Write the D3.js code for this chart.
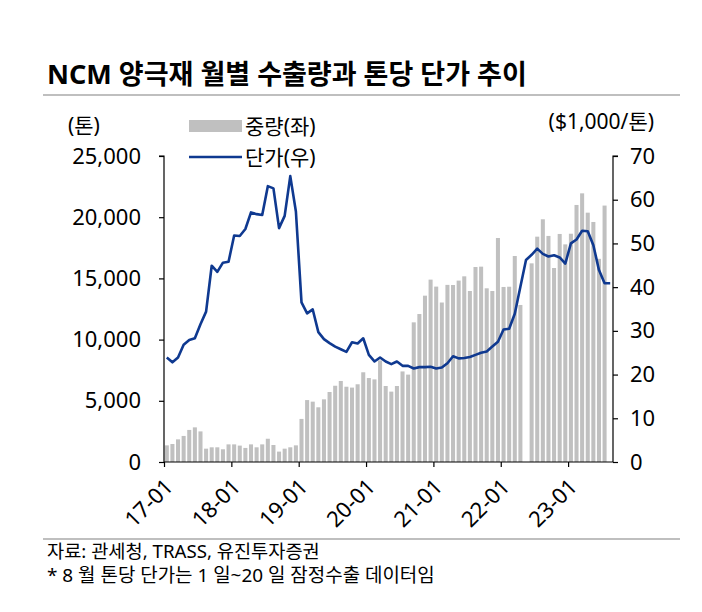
<!DOCTYPE html>
<html>
<head>
<meta charset="utf-8">
<script src="https://cdn.jsdelivr.net/npm/d3@7"></script>
<style>
  html, body { margin: 0; padding: 0; background: #fff; }
  svg { display: block; }
  text { font-family: "Noto Sans", "Noto Sans CJK KR", sans-serif; fill: #000; }
</style>
</head>
<body>
<svg id="chart" width="702" height="612"></svg>
<script>
// ---- data ----
const startYear = 2017;
const monthCount = 80; // 17-01 .. 23-08
const yearTickLabels = ["17-01", "18-01", "19-01", "20-01", "21-01", "22-01", "23-01"];
const leftTicks = [0, 5000, 10000, 15000, 20000, 25000];
const rightTicks = [0, 10, 20, 30, 40, 50, 60, 70];

// 중량 (tons), 17-01 .. 23-07 (23-08 not shown)
const volume = [
  1360, 1470, 1850, 2130, 2620, 2830, 2500, 1090, 1200, 1200, 1040, 1440,
  1440, 1340, 1150, 1440, 1200, 1440, 1900, 1390, 850, 1090, 1200, 1360,
  3520, 5060, 4930, 4470, 5120, 5720, 6230, 6620, 6150, 6080, 6350, 7330,
  6860, 6750, 8300, 6210, 5750, 6210, 7400, 7140, 11410, 12090, 13590, 14900,
  14330, 13030, 14470, 14460, 14820, 15170, 13970, 15930, 15960, 14190, 13970, 18300,
  14300, 14320, 16830, 12830, null, 16230, 18410, 19830, 18470, 15850, 18630, 17780,
  18650, 21000, 21950, 20370, 19610, 16600, 20950
];
// 단가 ($1,000/ton), 17-01 .. 23-08
const price = [
  23.9, 22.8, 23.9, 26.8, 27.9, 28.3, 31.5, 34.4, 44.9, 43.5, 45.6, 45.8,
  51.8, 51.7, 53.3, 57.1, 56.7, 56.5, 63.1, 62.6, 53.5, 56.3, 65.4, 57.3,
  36.5, 34.0, 34.9, 29.7, 28.1, 27.2, 26.4, 25.8, 25.2, 27.4, 27.1, 28.3,
  24.5, 23.0, 23.9, 23.0, 22.4, 23.0, 22.0, 22.0, 21.4, 21.7, 21.7, 21.8,
  21.4, 21.6, 22.6, 24.2, 23.7, 23.8, 24.0, 24.5, 25.0, 25.3, 26.4, 27.5,
  30.3, 30.5, 33.9, 40.1, 46.2, 47.4, 48.8, 47.6, 47.0, 47.3, 46.8, 45.4,
  50.0, 50.9, 52.9, 52.8, 49.6, 43.9, 40.9, 40.9
];

const months = [];
for (let i = 0; i < monthCount; i++) {
  const y = startYear + Math.floor(i / 12), m = (i % 12) + 1;
  months.push(String(y).slice(2) + "-" + String(m).padStart(2, "0"));
}

// ---- layout ----
const svg = d3.select("#chart");
const L = 164, R = 613, T = 156, B = 462;
const barColor = "#c0c0c0", lineColor = "#0f3990";

const x = d3.scaleBand().domain(months).range([L, R]).paddingInner(0.28).paddingOuter(0.14);
const xEdge = d3.scaleLinear().domain([0, monthCount]).range([L, R]);
const yL = d3.scaleLinear().domain([0, 25000]).range([B, T]);
const yR = d3.scaleLinear().domain([0, 70]).range([B, T]);

function fitText(sel, width) {
  const n = sel.node();
  const w = n.getComputedTextLength();
  const fs = parseFloat(sel.attr("font-size"));
  sel.attr("font-size", (fs * width / w).toFixed(2));
}

// title
const title = svg.append("text").attr("x", 47).attr("y", 84)
  .attr("font-size", 26).attr("font-weight", "bold")
  .attr("font-family", '"Noto Sans CJK KR", sans-serif')
  .text("NCM 양극재 월별 수출량과 톤당 단가 추이");
fitText(title, 480);

svg.append("line").attr("x1", 43).attr("x2", 680).attr("y1", 95).attr("y2", 95)
  .attr("stroke", "#bfbfbf").attr("stroke-width", 2);
svg.append("line").attr("x1", 43).attr("x2", 680).attr("y1", 539).attr("y2", 539)
  .attr("stroke", "#bfbfbf").attr("stroke-width", 2);

// bars
svg.append("g").selectAll("rect")
  .data(volume.map((v, i) => ({ m: months[i], v })).filter(d => d.v != null))
  .join("rect")
  .attr("x", d => x(d.m))
  .attr("width", x.bandwidth())
  .attr("y", d => yL(d.v))
  .attr("height", d => B - yL(d.v))
  .attr("fill", barColor);

// line
const line = d3.line()
  .x((d, i) => x(months[i]) + x.bandwidth() / 2)
  .y(d => yR(d));
svg.append("path").datum(price)
  .attr("d", line)
  .attr("fill", "none")
  .attr("stroke", lineColor)
  .attr("stroke-width", 2.6)
  .attr("stroke-linejoin", "round");

// axes
const fs = 22;
const gL = svg.append("g").attr("transform", `translate(${L},0)`)
  .call(d3.axisLeft(yL).tickValues(leftTicks).tickFormat(d3.format(",")).tickSize(5).tickPadding(18));
const gR = svg.append("g").attr("transform", `translate(${R},0)`)
  .call(d3.axisRight(yR).tickValues(rightTicks).tickSize(5).tickPadding(12));
const gB = svg.append("g").attr("transform", `translate(0,${B})`)
  .call(d3.axisBottom(xEdge).tickValues(d3.range(0, 73, 12))
    .tickFormat((d, i) => yearTickLabels[i]).tickSize(5).tickPadding(0));

[gL, gR, gB].forEach(g => {
  g.select(".domain").attr("stroke", "#000").attr("stroke-width", 1.2);
  g.selectAll(".tick line").attr("stroke", "#000").attr("stroke-width", 1.2);
  g.selectAll("text").attr("font-size", fs).attr("font-family", '"Noto Sans", sans-serif').attr("fill", "#000");
});
gL.select(".domain").attr("d", `M-5,${T}H0V${B}`);
gR.select(".domain").attr("d", `M5,${T}H0V${B}`);
gB.select(".domain").attr("d", `M${L},0H${R}`);
gB.selectAll(".tick text")
  .attr("text-anchor", "end")
  .attr("dy", null)
  .attr("y", null)
  .attr("transform", "translate(10,26) rotate(-45)");

// unit labels
svg.append("text").attr("x", 68).attr("y", 125).attr("dominant-baseline", "central")
  .attr("font-size", 21).attr("font-family", '"Noto Sans CJK KR", sans-serif').text("(톤)");
svg.append("text").attr("x", 654).attr("y", 121).attr("dominant-baseline", "central")
  .attr("text-anchor", "end")
  .attr("font-size", 21).attr("font-family", '"Noto Sans", "Noto Sans CJK KR", sans-serif').text("($1,000/톤)");

// legend
svg.append("rect").attr("x", 189).attr("y", 120).attr("width", 53).attr("height", 12).attr("fill", barColor);
svg.append("text").attr("x", 245).attr("y", 126).attr("dominant-baseline", "central")
  .attr("font-size", 21).attr("font-family", '"Noto Sans CJK KR", sans-serif').text("중량(좌)");
svg.append("line").attr("x1", 189).attr("x2", 242).attr("y1", 157).attr("y2", 157)
  .attr("stroke", lineColor).attr("stroke-width", 2.6);
svg.append("text").attr("x", 245).attr("y", 157).attr("dominant-baseline", "central")
  .attr("font-size", 21).attr("font-family", '"Noto Sans CJK KR", sans-serif').text("단가(우)");

// footnotes
const f1 = svg.append("text").attr("x", 47).attr("y", 558).attr("font-size", 17)
  .attr("font-family", '"Noto Sans CJK KR", sans-serif')
  .text("자료: 관세청, TRASS, 유진투자증권");
fitText(f1, 273);
const f2 = svg.append("text").attr("x", 47).attr("y", 582).attr("font-size", 17)
  .attr("font-family", '"Noto Sans CJK KR", sans-serif')
  .text("* 8 월 톤당 단가는 1 일~20 일 잠정수출 데이터임");
fitText(f2, 388);
</script>
</body>
</html>
